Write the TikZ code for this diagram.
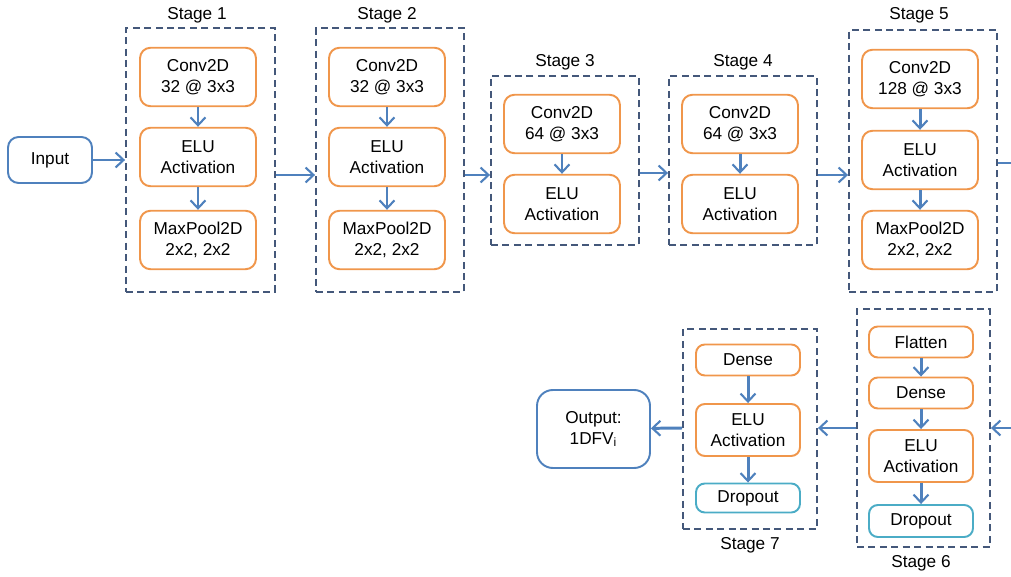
\documentclass[tikz,border=0pt]{standalone}
\usepackage{fontspec}
\setmainfont{Liberation Sans}
\usetikzlibrary{arrows.meta}

\definecolor{layerorange}{RGB}{240,150,75}
\definecolor{ioblue}{RGB}{79,129,189}
\definecolor{stagegray}{RGB}{68,88,122}
\definecolor{dropteal}{RGB}{75,172,198}

\begin{document}
\begin{tikzpicture}[x=0.02cm,y=-0.02cm,
    font=\fontsize{9.8}{12}\selectfont]
\useasboundingbox (0,0) rectangle (1011,577);
\clip (0,0) rectangle (1011,577);

% stage frames
\begin{scope}[every node/.style={draw=stagegray,line width=1.1pt,
              dash pattern=on 4pt off 2.5pt,inner sep=0pt}]
    \node[minimum width=2.98cm,minimum height=5.28cm] (s1) at (200.5,160) {};
    \node[minimum width=2.96cm,minimum height=5.28cm] (s2) at (390,160) {};
    \node[minimum width=2.96cm,minimum height=3.38cm] (s3) at (565,160.5) {};
    \node[minimum width=2.96cm,minimum height=3.38cm] (s4) at (743,160.5) {};
    \node[minimum width=2.96cm,minimum height=5.24cm] (s5) at (923,161) {};
    \node[minimum width=2.66cm,minimum height=4.76cm] (s6) at (923.5,428) {};
    \node[minimum width=2.68cm,minimum height=4.00cm] (s7) at (750,429) {};
\end{scope}

% stage titles
\node (t1) at (197,15) {Stage 1};
\node (t2) at (387,15) {Stage 2};
\node (t3) at (565,62) {Stage 3};
\node (t4) at (743,62) {Stage 4};
\node (t5) at (919,15) {Stage 5};
\node (t6) at (921,563) {Stage 6};
\node (t7) at (750,545) {Stage 7};

% input and output
\begin{scope}[every node/.style={draw=ioblue,line width=1.1pt,
              rounded corners=6pt,align=center}]
    \node[minimum width=1.68cm,minimum height=0.92cm] (in) at (50,160) {Input};
    \node[minimum width=2.26cm,minimum height=1.56cm,rounded corners=9pt]
        (out) at (593.5,429) {Output:\\1DFV\textsubscript{i}};
\end{scope}

% layers
\begin{scope}[every node/.style={draw=layerorange,line width=1.1pt,
              rounded corners=6pt,align=center,
              minimum width=2.32cm,minimum height=1.17cm}]
    \node (c1) at (198,77) {Conv2D\\32 @ 3x3};
    \node (e1) at (198,157) {ELU\\Activation};
    \node (p1) at (198,240) {MaxPool2D\\2x2, 2x2};
    \node (c2) at (387,77) {Conv2D\\32 @ 3x3};
    \node (e2) at (387,157) {ELU\\Activation};
    \node (p2) at (387,240) {MaxPool2D\\2x2, 2x2};
    \node (c3) at (562,124) {Conv2D\\64 @ 3x3};
    \node (e3) at (562,204) {ELU\\Activation};
    \node (c4) at (740,124) {Conv2D\\64 @ 3x3};
    \node (e4) at (740,204) {ELU\\Activation};
    \node (c5) at (920,79) {Conv2D\\128 @ 3x3};
    \node (e5) at (920,160) {ELU\\Activation};
    \node (p5) at (920,240) {MaxPool2D\\2x2, 2x2};
\end{scope}

\begin{scope}[every node/.style={draw=layerorange,line width=1.1pt,
              rounded corners=5pt,align=center,minimum width=2.08cm}]
    \node[minimum height=0.62cm] (f6) at (921,342) {Flatten};
    \node[minimum height=0.62cm] (d6) at (921,393) {Dense};
    \node[minimum height=1.04cm] (e6) at (921,456) {ELU\\Activation};
    \node[minimum height=0.62cm] (d7) at (748,360) {Dense};
    \node[minimum height=1.04cm] (e7) at (748,430) {ELU\\Activation};
    \node[minimum height=0.64cm,draw=dropteal] (o6) at (921,521) {Dropout};
    \node[minimum height=0.58cm,draw=dropteal] (o7) at (748,498) {Dropout};
\end{scope}

% off-page joins between stage 5 and stage 6
\coordinate (r5) at (1030,163);
\coordinate (r6) at (1030,428);

\begin{scope}[>={Straight Barb[length=4.5pt,width=8.5pt,line width=1.2pt]},
              every edge/.style={draw=ioblue,line width=1.7pt}]
    \path [->] (c1) edge (e1);
    \path [->] (e1) edge (p1);
    \path [->] (c2) edge (e2);
    \path [->] (e2) edge (p2);
    \path [->] (c3) edge (e3);
    \path [->] (c4) edge (e4);
    \path [->] (c5) edge (e5);
    \path [->] (e5) edge (p5);
    \path [->] (f6) edge (d6);
    \path [->] (d6) edge (e6);
    \path [->] (e6) edge (o6);
    \path [->] (d7) edge (e7);
    \path [->] (e7) edge (o7);
    \path [->] (in) edge (s1.west |- in);
    \path [->] (s1.east |- 0,175) edge (s2.west |- 0,175);
    \path [->] (s2.east |- 0,175) edge (s3.west |- 0,175);
    \path [->] (s3.east |- 0,173) edge (s4.west |- 0,173);
    \path [->] (s4.east |- 0,175) edge (s5.west |- 0,175);
    \path [-]  (s5.east |- r5) edge (r5);
    \path [->] (r6) edge (s6.east |- r6);
    \path [->] (s6.west |- r6) edge (s7.east |- r6);
    \path [->] (s7.west |- r6) edge (out);
\end{scope}
\end{tikzpicture}
\end{document}
